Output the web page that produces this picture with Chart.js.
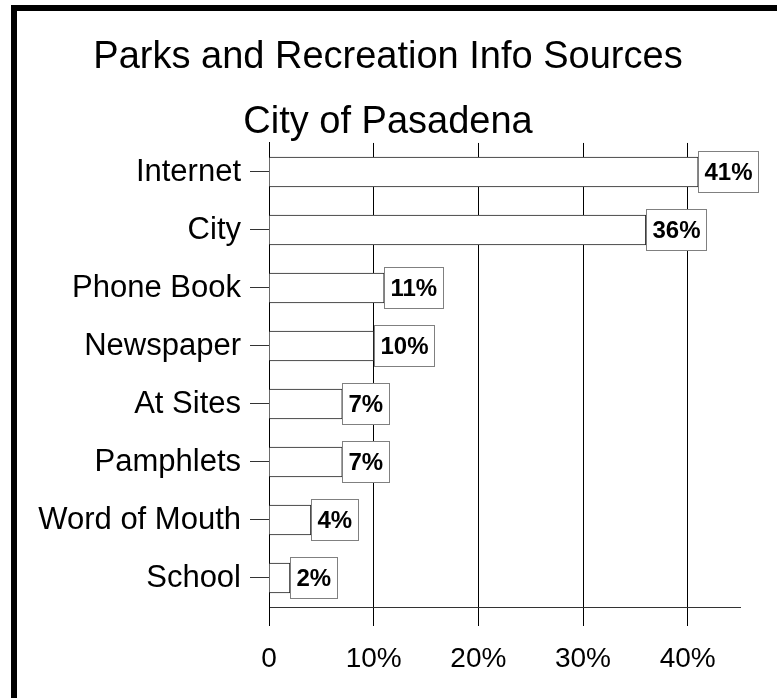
<!DOCTYPE html>
<html>
<head>
<meta charset="utf-8">
<script src="https://cdn.jsdelivr.net/npm/chart.js@4/dist/chart.umd.min.js"></script>
<style>
  body { margin: 0; background: #fff; }
  #wrap { position: relative; width: 777px; height: 698px; }
</style>
</head>
<body>
<div id="wrap"><canvas id="myChart"></canvas></div>
<script>
// data
var sources = ["Internet", "City", "Phone Book", "Newspaper", "At Sites", "Pamphlets", "Word of Mouth", "School"];
var percents = [41, 36, 11, 10, 7, 7, 4, 2];
var tickValues = [0, 10, 20, 30, 40];
var tickLabels = ["0", "10%", "20%", "30%", "40%"];
var titleLines = ["Parks and Recreation Info Sources", "City of Pasadena"];

var FONT = "'Liberation Sans', Arial, sans-serif";

// boxed value labels at bar ends
var valueBoxes = {
  id: 'valueBoxes',
  afterDatasetsDraw: function (chart) {
    var ctx = chart.ctx;
    var meta = chart.getDatasetMeta(0);
    ctx.save();
    ctx.font = "bold 24px " + FONT;
    ctx.textAlign = 'left';
    ctx.textBaseline = 'middle';
    meta.data.forEach(function (bar, i) {
      var txt = percents[i] + '%';
      var w = Math.round(ctx.measureText(txt).width + 12);
      var h = 41;
      var x = Math.round(bar.x) + 0.5;
      var y = Math.round(bar.y - h / 2) + 0.5;
      ctx.fillStyle = '#fff';
      ctx.fillRect(x, y, w, h);
      ctx.strokeStyle = '#808080';
      ctx.lineWidth = 1;
      ctx.strokeRect(x, y, w, h);
      ctx.fillStyle = '#000';
      ctx.fillText(txt, x + 6, bar.y + 1);
    });
    ctx.restore();
  }
};

// thick frame on the left and top
var frame = {
  id: 'frame',
  afterDraw: function (chart) {
    var ctx = chart.ctx;
    ctx.save();
    ctx.fillStyle = '#000';
    ctx.fillRect(11, 5, 6, 700);
    ctx.fillRect(11, 5, 770, 6);
    ctx.restore();
  }
};

new Chart(document.getElementById("myChart"), {
  type: 'bar',
  data: {
    labels: sources,
    datasets: [{
      data: percents,
      backgroundColor: '#fff',
      borderColor: '#222',
      borderWidth: 1,
      barThickness: 30
    }]
  },
  options: {
    indexAxis: 'y',
    responsive: true,
    maintainAspectRatio: false,
    animation: false,
    layout: { padding: { left: 36, right: 37, top: 0, bottom: 0 } },
    plugins: {
      legend: { display: false },
      tooltip: { enabled: false },
      title: {
        display: true,
        text: titleLines,
        color: '#000',
        font: { family: FONT, size: 38, weight: 'normal', lineHeight: 1.71 },
        padding: { top: 25, bottom: -12 }
      }
    },
    scales: {
      x: {
        min: 0,
        max: 45,
        afterBuildTicks: function (scale) {
          scale.ticks = tickValues.map(function (v) { return { value: v }; });
        },
        afterFit: function (scale) { scale.height = 91; },
        ticks: {
          color: '#000',
          padding: 16,
          maxRotation: 0,
          font: { family: FONT, size: 28 },
          callback: function (v) { return tickLabels[tickValues.indexOf(v)]; }
        },
        grid: { color: '#000', lineWidth: 1, tickLength: 19, drawOnChartArea: true },
        border: { display: true, color: '#333', width: 1 }
      },
      y: {
        afterFit: function (scale) { scale.width = 233; },
        ticks: {
          color: '#000',
          padding: 9,
          font: { family: FONT, size: 31 }
        },
        grid: { color: '#333', offset: false, drawOnChartArea: false, tickLength: 19 },
        border: { display: true, color: '#000', width: 1 }
      }
    }
  },
  plugins: [valueBoxes, frame]
});
</script>
</body>
</html>
